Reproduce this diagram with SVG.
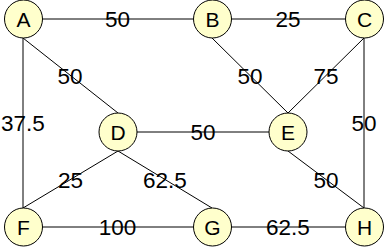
<svg xmlns="http://www.w3.org/2000/svg" width="385" height="248" viewBox="0 0 385 248">
<style>
.e{stroke:#000;stroke-width:1;fill:none}
.n circle{fill:#FFFFCC;stroke:#000;stroke-width:1}
text{font-family:"Liberation Sans",Arial,sans-serif;fill:#000;text-anchor:middle}
.nl{font-size:21px}
.el{font-size:22.5px}
</style>
<rect width="385" height="248" fill="#fff"/>
<g id="edges">
<line class="e" x1="42" y1="19" x2="193" y2="19"/>
<line class="e" x1="232" y1="19" x2="345" y2="19"/>
<line class="e" x1="23" y1="38" x2="118" y2="113"/>
<line class="e" x1="23" y1="38" x2="23" y2="208"/>
<line class="e" x1="212" y1="38" x2="288" y2="113"/>
<line class="e" x1="364" y1="38" x2="288" y2="113"/>
<line class="e" x1="364" y1="38" x2="364" y2="208"/>
<line class="e" x1="137" y1="132" x2="269" y2="132"/>
<line class="e" x1="118" y1="151" x2="23" y2="208"/>
<line class="e" x1="118" y1="151" x2="212" y2="208"/>
<line class="e" x1="288" y1="151" x2="364" y2="208"/>
<line class="e" x1="42" y1="227" x2="193" y2="227"/>
<line class="e" x1="231" y1="227" x2="345" y2="227"/>
<text class="el" x="117.5" y="27">50</text>
<text class="el" x="288" y="27">25</text>
<text class="el" x="70" y="83.5">50</text>
<text class="el" x="23" y="131">37.5</text>
<text class="el" x="250" y="83.5">50</text>
<text class="el" x="326" y="83.5">75</text>
<text class="el" x="364" y="131">50</text>
<text class="el" x="203" y="140">50</text>
<text class="el" x="70.5" y="188">25</text>
<text class="el" x="165" y="188">62.5</text>
<text class="el" x="326" y="188">50</text>
<text class="el" x="117.5" y="235">100</text>
<text class="el" x="288" y="235">62.5</text>
</g>
<g id="A" class="n"><circle cx="23.5" cy="19" r="19"/><text class="nl" x="23.5" y="26.7">A</text></g>
<g id="B" class="n"><circle cx="212.5" cy="19" r="19"/><text class="nl" x="212.5" y="26.7">B</text></g>
<g id="C" class="n"><circle cx="364.5" cy="19" r="19"/><text class="nl" x="364.5" y="26.7">C</text></g>
<g id="D" class="n"><circle cx="118" cy="132" r="19"/><text class="nl" x="118" y="139.7">D</text></g>
<g id="E" class="n"><circle cx="288" cy="132" r="19"/><text class="nl" x="288" y="139.7">E</text></g>
<g id="F" class="n"><circle cx="23.5" cy="227" r="19"/><text class="nl" x="23.5" y="234.7">F</text></g>
<g id="G" class="n"><circle cx="212.5" cy="227" r="19"/><text class="nl" x="212.5" y="234.7">G</text></g>
<g id="H" class="n"><circle cx="364.5" cy="227" r="19"/><text class="nl" x="364.5" y="234.7">H</text></g>
</svg>
